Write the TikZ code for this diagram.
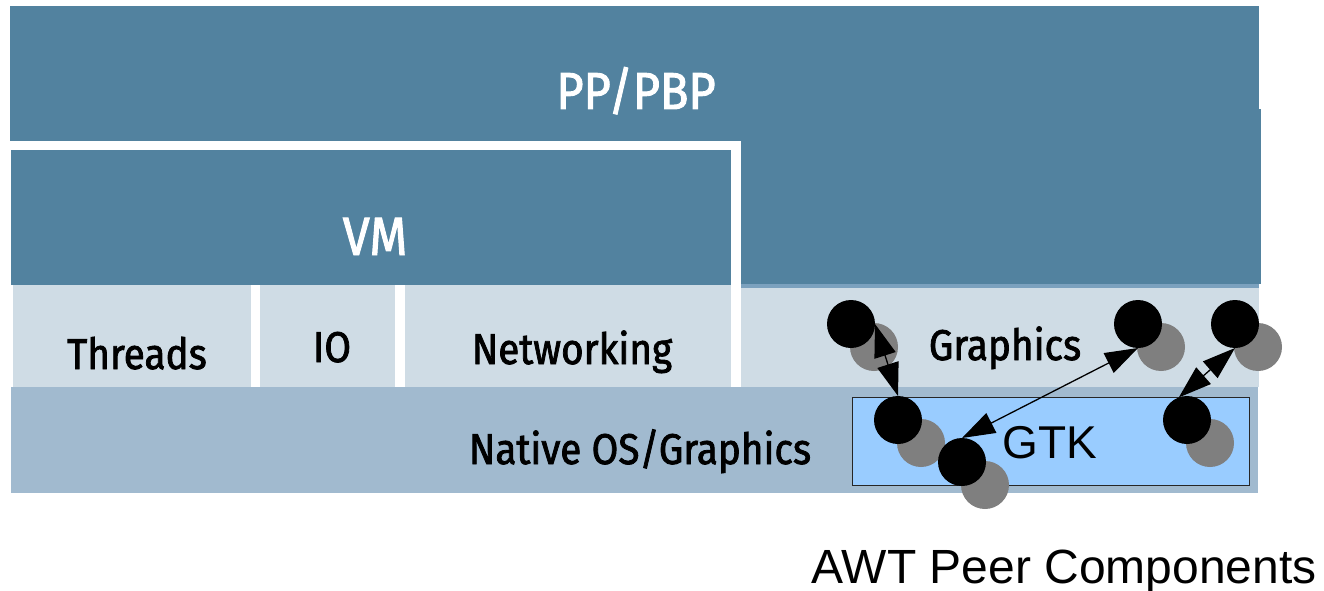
\documentclass[tikz,border=0pt]{standalone}
\usepackage{fontspec}
\newfontfamily\layerfont{Fira Sans}[FakeStretch=0.9, FakeBold=1.8]
\newfontfamily\arialfont{Liberation Sans}
\usetikzlibrary{arrows.meta}

\definecolor{layerdark}{HTML}{52829F}
\definecolor{layerband}{HTML}{7BA1BE}
\definecolor{celllight}{HTML}{CFDCE5}
\definecolor{nativebg}{HTML}{A1BACF}
\definecolor{gtkfill}{HTML}{99CCFF}
\definecolor{peergray}{HTML}{7F7F7F}

\tikzset{
  layertitle/.style={anchor=base, text=white, inner sep=0pt,
    font=\layerfont\fontsize{52}{60}\selectfont},
  celllabel/.style={anchor=base, text=black, inner sep=0pt,
    font=\layerfont\fontsize{43}{50}\selectfont},
  peer/.style={circle, fill=black, minimum size=48pt, inner sep=0pt, outer sep=0pt},
  peershadow/.style={circle, fill=peergray, minimum size=48pt, inner sep=0pt, outer sep=0pt},
  peerlink/.style={line width=1.3pt,
    {Triangle[length=33pt,width=22pt]}-{Triangle[length=33pt,width=22pt]}},
}

\begin{document}
\begin{tikzpicture}[x=1pt, y=-1pt]
  \useasboundingbox (0,0) rectangle (1324,591);

  % layer blocks
  \fill[layerdark] (10,6) rectangle (1259,141);
  \fill[layerdark] (741,109) rectangle (1261,284);
  \fill[layerband] (741,284) rectangle (1259,288);
  \fill[layerdark] (11,150) rectangle (731,285);

  \fill[celllight] (13,285) rectangle (251,387);
  \fill[celllight] (260,285) rectangle (395,387);
  \fill[celllight] (405,285) rectangle (731,387);
  \fill[celllight] (741,288) rectangle (1259,387);

  \fill[nativebg] (11,387) rectangle (1258,493);
  \draw[fill=gtkfill, draw=black!85, line width=1pt] (852,397) rectangle (1249,485);

  % labels
  \node[layertitle] (ppbp) at (636,109) {PP/PBP};
  \node[layertitle, font=\layerfont\fontsize{54}{60}\selectfont] (vm) at (375,255) {VM};
  \node[celllabel] (threads) at (137,369) {Threads};
  \node[celllabel] (io) at (332,362) {IO};
  \node[celllabel] (net) at (572,364) {Networking};
  \node[celllabel] (gfx) at (1005,360) {Graphics};
  \node[celllabel] (native) at (640,464) {Native OS/Graphics};
  \node[anchor=base, inner sep=0pt, font=\arialfont\fontsize{46}{52}\selectfont] (gtk) at (1050,458) {GTK};
  \node[anchor=base, inner sep=0pt, font=\arialfont\fontsize{48}{56}\selectfont] (awt) at (1064,583) {AWT Peer Components};

  % peer components: shadows first, then the dots
  \foreach \n/\px/\py in {1/851/324, 2/898/420, 3/962/462, 4/1138/324, 5/1235/324, 6/1187/420} {
    \node[peershadow] (s\n) at (\px+23,\py+23) {};
  }
  \node[peer] (c1) at (851,324) {};
  \node[peer] (c2) at (898,420) {};
  \node[peer] (c3) at (962,462) {};
  \node[peer] (c4) at (1138,324) {};
  \node[peer] (c5) at (1235,324) {};
  \node[peer] (c6) at (1187,420) {};

  % peer links
  \draw[peerlink] (c1.east) -- (c2.north);
  \draw[peerlink] (c3.north) -- (c4.south);
  \draw[peerlink] (c6.110) -- (c5.south);
\end{tikzpicture}
\end{document}
